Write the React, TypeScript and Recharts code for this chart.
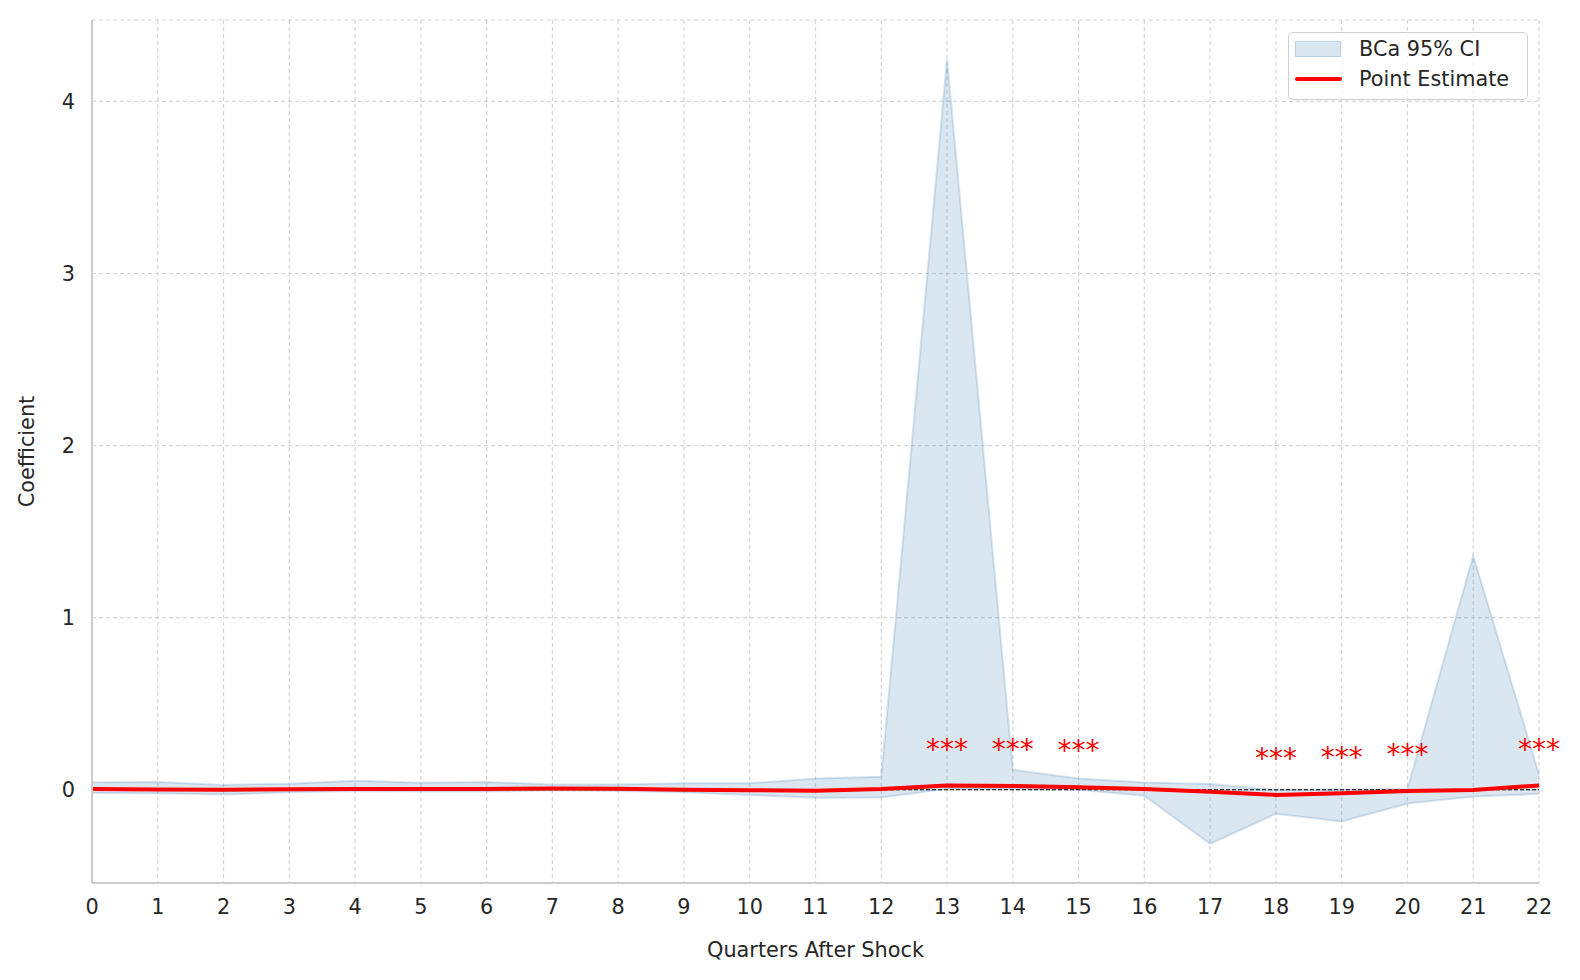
import React from 'react';
import {
  ComposedChart,
  Area,
  Line,
  Scatter,
  XAxis,
  YAxis,
  CartesianGrid,
  Legend,
} from 'recharts';

const QUARTERS = [0, 1, 2, 3, 4, 5, 6, 7, 8, 9, 10, 11, 12, 13, 14, 15, 16, 17, 18, 19, 20, 21, 22];
const CI_LOW = [-0.019, -0.02, -0.028, -0.015, -0.008, -0.01, -0.01, -0.005, -0.008, -0.015, -0.03, -0.047, -0.045, 0.005, 0.005, 0.0, -0.035, -0.314, -0.14, -0.184, -0.08, -0.04, -0.024];
const CI_HIGH = [0.043, 0.045, 0.028, 0.035, 0.052, 0.04, 0.045, 0.03, 0.03, 0.037, 0.037, 0.066, 0.075, 4.245, 0.116, 0.066, 0.042, 0.034, 0.0, 0.002, 0.005, 1.36, 0.09];
const ESTIMATE = [0.005, 0.002, 0.0, 0.003, 0.005, 0.004, 0.005, 0.007, 0.006, 0.0, -0.003, -0.006, 0.005, 0.025, 0.022, 0.015, 0.005, -0.012, -0.03, -0.02, -0.007, -0.002, 0.025];
const STARRED = [13, 14, 15, 18, 19, 20, 22];
const Y_TICKS = [0, 1, 2, 3, 4];

const FONT = '"DejaVu Sans", sans-serif';
const INK = '#262626';
const SPINE = '#cccccc';
const STAR_LIFT = 0.155;

const rows = QUARTERS.map((q, i) => ({
  q,
  ci: [CI_LOW[i], CI_HIGH[i]],
  est: ESTIMATE[i],
}));

const starRows = rows
  .filter((r) => STARRED.includes(r.q))
  .map((r) => ({ q: r.q, star: r.est + STAR_LIFT }));

// matplotlib-style 5% padding on the value axis
const lo = Math.min(...CI_LOW);
const hi = Math.max(...CI_HIGH);
const pad = (hi - lo) * 0.05;
const yDomain = [lo - pad, hi + pad];

const StarMark = (props: any) => (
  <text x={props.cx} y={props.cy} textAnchor="middle" fill="#ff0000" fontSize={28} fontFamily={FONT}>
    ***
  </text>
);

const LegendBox = () => (
  <div
    style={{
      width: 238,
      height: 66,
      border: '1.5px solid #d0d0d0',
      borderRadius: 5,
      background: 'rgba(255,255,255,0.8)',
      fontFamily: FONT,
      fontSize: 20.8,
      color: INK,
      position: 'relative',
    }}
  >
    <div style={{ position: 'absolute', left: 6, top: 8, width: 46, height: 16, background: '#dae6f0', border: '1.5px solid #bcd1e4', boxSizing: 'border-box' }} />
    <div style={{ position: 'absolute', left: 70, top: 3, lineHeight: '26px', whiteSpace: 'nowrap' }}>BCa 95% CI</div>
    <div style={{ position: 'absolute', left: 6, top: 44, width: 47, height: 4, background: '#ff0000', borderRadius: 2 }} />
    <div style={{ position: 'absolute', left: 70, top: 33, lineHeight: '26px', whiteSpace: 'nowrap' }}>Point Estimate</div>
  </div>
);

export default function App() {
  return (
    <div style={{ position: 'absolute', left: 0, top: 0, background: '#fff' }}>
      <ComposedChart
        width={1580}
        height={980}
        data={rows}
        margin={{ top: 20, right: 41, left: 0, bottom: 0 }}
      >
        <CartesianGrid stroke="#d6d6d6" strokeDasharray="4 3" strokeWidth={1.2} />
        <XAxis
          dataKey="q"
          type="number"
          domain={[0, 22]}
          ticks={QUARTERS}
          interval={0}
          height={97}
          tickLine={false}
          tickMargin={10}
          axisLine={{ stroke: SPINE, strokeWidth: 2 }}
          tick={{ fill: INK, fontSize: 20.8, fontFamily: FONT }}
          label={{ value: 'Quarters After Shock', position: 'insideBottom', offset: 23, fill: INK, fontSize: 20.8, fontFamily: FONT }}
        />
        <XAxis
          xAxisId="top"
          orientation="top"
          type="number"
          domain={[0, 22]}
          height={0}
          tick={false}
          tickLine={false}
          axisLine={{ stroke: SPINE, strokeWidth: 2 }}
        />
        <YAxis
          type="number"
          domain={yDomain}
          ticks={Y_TICKS}
          width={92}
          tickLine={false}
          tickMargin={11}
          axisLine={{ stroke: SPINE, strokeWidth: 2 }}
          tick={{ fill: INK, fontSize: 20.8, fontFamily: FONT }}
          allowDataOverflow
          label={{ value: 'Coefficient', angle: -90, position: 'insideLeft', offset: 27, fill: INK, fontSize: 20.8, fontFamily: FONT, style: { textAnchor: 'middle' } }}
        />
        <YAxis
          yAxisId="right"
          orientation="right"
          type="number"
          domain={yDomain}
          width={0}
          tick={false}
          tickLine={false}
          axisLine={{ stroke: SPINE, strokeWidth: 2 }}
        />
        <Area
          dataKey="ci"
          type="linear"
          fill="#4682b4"
          fillOpacity={0.2}
          stroke="#4682b4"
          strokeOpacity={0.22}
          strokeWidth={2}
          isAnimationActive={false}
        />
        <Line
          dataKey={() => 0}
          type="linear"
          stroke="#000000"
          strokeWidth={1.2}
          strokeDasharray="4 2"
          dot={false}
          activeDot={false}
          legendType="none"
          isAnimationActive={false}
        />
        <Line
          dataKey="est"
          type="linear"
          stroke="#ff0000"
          strokeWidth={4}
          dot={false}
          activeDot={false}
          isAnimationActive={false}
        />
        <Scatter data={starRows} dataKey="star" shape={StarMark} isAnimationActive={false} />
        <Legend
          layout="vertical"
          align="center"
          verticalAlign="middle"
          content={LegendBox}
          wrapperStyle={{ position: 'absolute', left: 1288, top: 32, width: 240, height: 68 }}
        />
      </ComposedChart>
    </div>
  );
}
